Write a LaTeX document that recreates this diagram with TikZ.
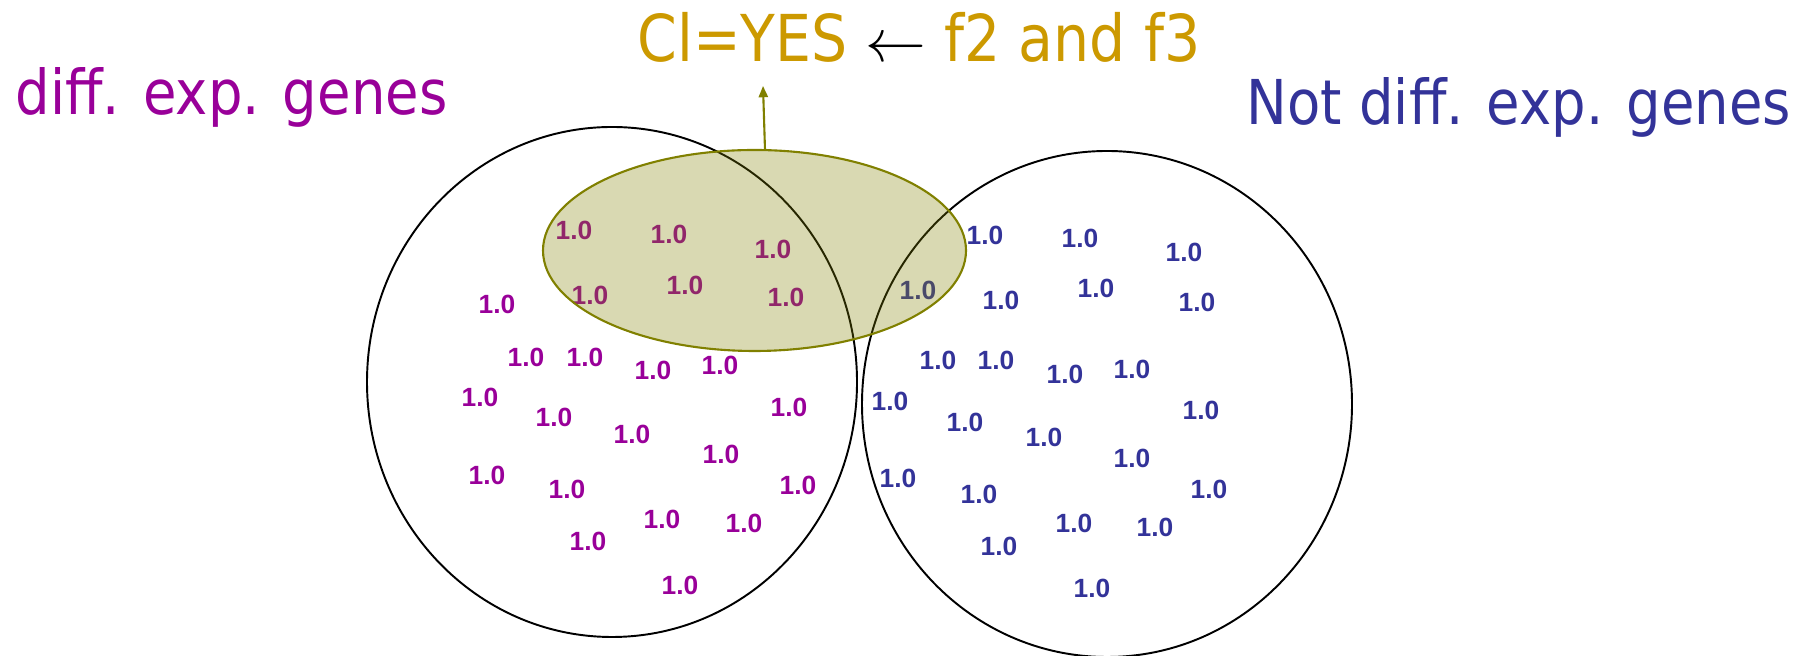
\documentclass[tikz,border=0pt]{standalone}
\usepackage{fontspec}
\setmainfont{DejaVu Sans}[FakeStretch=0.88]
\newfontfamily\numfont{Liberation Sans}
\usepackage{xcolor}
\usepackage{tikz}
\usetikzlibrary{arrows.meta}

\definecolor{diffpurple}{HTML}{990099}
\definecolor{notblue}{HTML}{333399}
\definecolor{rulegold}{HTML}{CC9900}
\definecolor{selolive}{HTML}{808000}

\tikzset{
  heading/.style={anchor=base west, inner sep=0pt, font=\fontsize{17.6}{20}\selectfont},
  val/.style={inner sep=0pt, font=\numfont\bfseries\fontsize{7.5}{8}\selectfont},
}

\begin{document}
\begin{tikzpicture}[x=0.1mm, y=-0.1mm]
    \useasboundingbox (0,0) rectangle (1800,656);

    % Headings
    \node[heading, text=diffpurple] (diffLabel) at (15,115) {diff. exp. genes};
    \node[heading, text=notblue] (notLabel) at (1246,125) {Not diff. exp. genes};
    \node[heading, text=rulegold, font=\fontsize{18.4}{22}\selectfont] (rule) at (637,62) {Cl=YES {\color{black}$\leftarrow$} f2 and f3};

    % Gene sets
    \draw[line width=0.55pt] (612,382) ellipse (245 and 255);
    \draw[line width=0.55pt] (1107,404) ellipse (245 and 253);

    % Values, diff. exp. genes
    \foreach \x/\y [count=\i] in {574/230, 669/234, 773/249, 590/295, 685/285, 786/297,
        497/304, 526/357, 585/357, 653/370, 720/365, 480/397, 789/407, 554/417,
        632/434, 721/454, 487/475, 798/485, 567/489, 662/519, 744/523, 588/541, 680/585}
        \node[val, text=diffpurple] (dv\i) at (\x,\y) {1.0};

    % Values, not diff. exp. genes
    \foreach \x/\y [count=\i] in {918/290, 985/235, 1080/238, 1184/252, 1001/300, 1096/288,
        1197/302, 938/360, 996/360, 1065/374, 1132/369, 890/401, 1201/410, 965/422,
        1044/437, 1132/458, 898/478, 979/494, 1209/489, 1074/523, 1155/527, 999/546, 1092/588}
        \node[val, text=notblue] (nv\i) at (\x,\y) {1.0};

    % Selected by the rule
    \draw[selolive, line width=0.6pt, fill=selolive, fill opacity=0.3] (754.5,250.5) ellipse (211.5 and 100.5);
    \coordinate (selTop) at (765,150);
    \coordinate (ruleTip) at (763,86);
    \draw[selolive, line width=0.6pt, -{Triangle[length=3.2pt, width=2.6pt]}] (selTop) -- (ruleTip);
\end{tikzpicture}
\end{document}
